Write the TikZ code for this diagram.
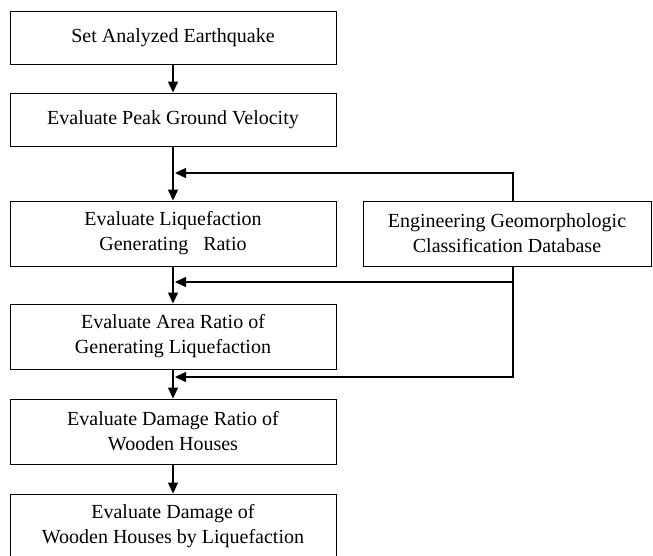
\documentclass[tikz,border=0pt]{standalone}
\usepackage{fontspec}
\setmainfont{Liberation Serif}
\usepackage{tikz}
\usetikzlibrary{arrows.meta}

\tikzset{
  stepbox/.style = {draw, line width=0.9pt, minimum width=326pt, align=center, inner sep=0pt},
  flow/.style = {line width=1.3pt, -{Triangle[length=11pt,width=10pt]}}
}

\begin{document}
\begin{tikzpicture}[x=1pt,y=-1pt,font=\fontsize{20}{25}\selectfont]
    \useasboundingbox (0,0) rectangle (653,555);
    \node[stepbox, minimum height=53pt](earthquake) at (173,37.5) {Set Analyzed Earthquake};
    \node[stepbox, minimum height=53pt](velocity) at (173,119.5) {Evaluate Peak Ground Velocity};
    \node[stepbox, minimum height=65pt](liqRatio) at (173,233.5) {Evaluate Liquefaction\\Generating~~ Ratio};
    \node[stepbox, minimum height=65pt, minimum width=288pt](database) at (507,233.5) {Engineering Geomorphologic\\Classification Database};
    \node[stepbox, minimum height=65pt](areaRatio) at (173,336.5) {Evaluate Area Ratio of\\Generating Liquefaction};
    \node[stepbox, minimum height=65pt](damageRatio) at (173,431.5) {Evaluate Damage Ratio of\\Wooden Houses};
    \node[stepbox, minimum height=65pt](damage) at (173,526.5) {Evaluate Damage of\\Wooden Houses by Liquefaction};

    % joins on the main line
    \coordinate (joinA) at (175,173);
    \coordinate (joinB) at (175,282);
    \coordinate (joinC) at (175,377);

    \draw [flow] (earthquake) -- (velocity);
    \draw [flow] (velocity) -- (liqRatio);
    \draw [flow] (liqRatio) -- (areaRatio);
    \draw [flow] (areaRatio) -- (damageRatio);
    \draw [flow] (damageRatio) -- (damage);

    \draw [flow] ([xshift=6pt]database.north) |- (joinA);
    \draw [flow] ([xshift=6pt]database.south) |- (joinB);
    \draw [flow] ([xshift=6pt]database.south) |- (joinC);
\end{tikzpicture}
\end{document}
